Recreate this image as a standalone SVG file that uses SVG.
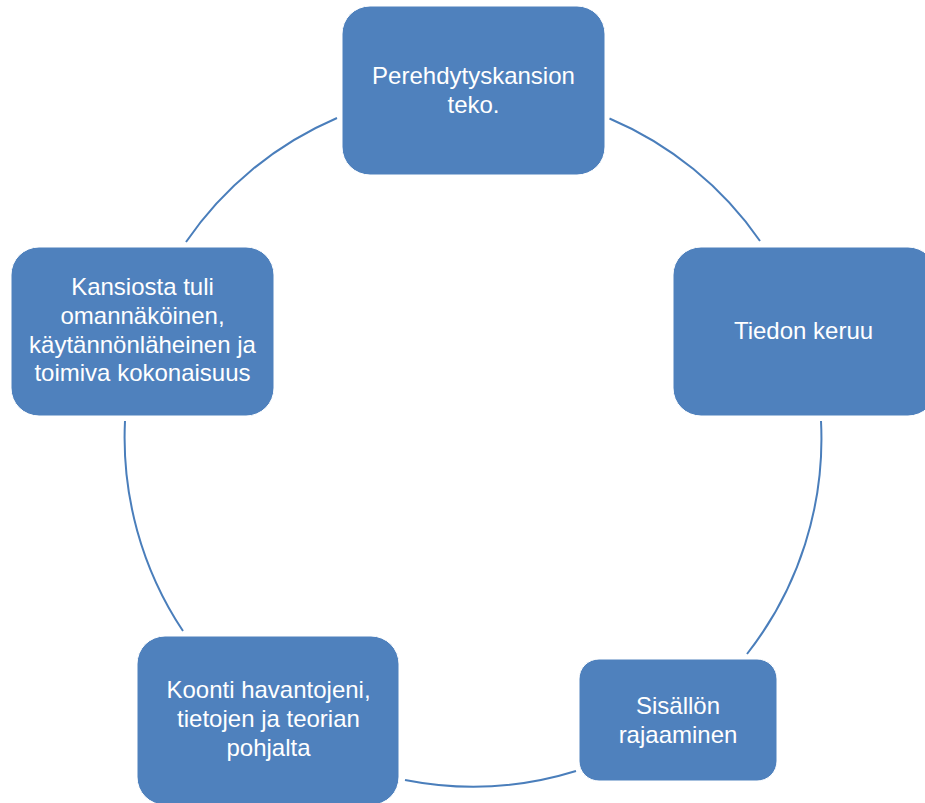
<svg xmlns="http://www.w3.org/2000/svg" width="925" height="803" viewBox="0 0 925 803">
<style>
.node{fill:#4F81BD;stroke:#FFFFFF;stroke-width:1}
.lbl{font-family:"Liberation Sans",Arial,sans-serif;font-size:24px;fill:#FFFFFF;text-anchor:middle}
.arc{fill:none;stroke:#4A7EBB;stroke-width:2}
</style>
<rect width="925" height="803" fill="#FFFFFF"/>
<g id="connectors">
<path class="arc" d="M609.5,118.5 A349,349 0 0 1 760,241"/>
<path class="arc" d="M821,421 A349,349 0 0 1 747,654"/>
<path class="arc" d="M576,771 A349,349 0 0 1 405,780"/>
<path class="arc" d="M183,631 A349,349 0 0 1 125,421"/>
<path class="arc" d="M186,242 A349,349 0 0 1 337,118"/>
</g>
<g id="node-perehdytys">
<rect class="node" x="342" y="6" width="263" height="169" rx="28"/>
<text class="lbl" x="473.5" y="84">Perehdytyskansion</text>
<text class="lbl" x="473.5" y="113">teko.</text>
</g>
<g id="node-tiedon">
<rect class="node" x="673" y="247" width="263" height="169" rx="28"/>
<text class="lbl" x="803.5" y="339">Tiedon keruu</text>
</g>
<g id="node-sisallon">
<rect class="node" x="579" y="659" width="198" height="122" rx="20"/>
<text class="lbl" x="678" y="714">Sisällön</text>
<text class="lbl" x="678" y="743">rajaaminen</text>
</g>
<g id="node-koonti">
<rect class="node" x="137" y="636" width="262" height="169" rx="28"/>
<text class="lbl" x="268.5" y="698">Koonti havantojeni,</text>
<text class="lbl" x="268.5" y="727">tietojen ja teorian</text>
<text class="lbl" x="268.5" y="756">pohjalta</text>
</g>
<g id="node-kansiosta">
<rect class="node" x="11" y="247" width="263" height="169" rx="28"/>
<text class="lbl" x="142.5" y="295">Kansiosta tuli</text>
<text class="lbl" x="142.5" y="324">omannäköinen,</text>
<text class="lbl" x="142.5" y="352.5">käytännönläheinen ja</text>
<text class="lbl" x="142.5" y="381">toimiva kokonaisuus</text>
</g>
</svg>
